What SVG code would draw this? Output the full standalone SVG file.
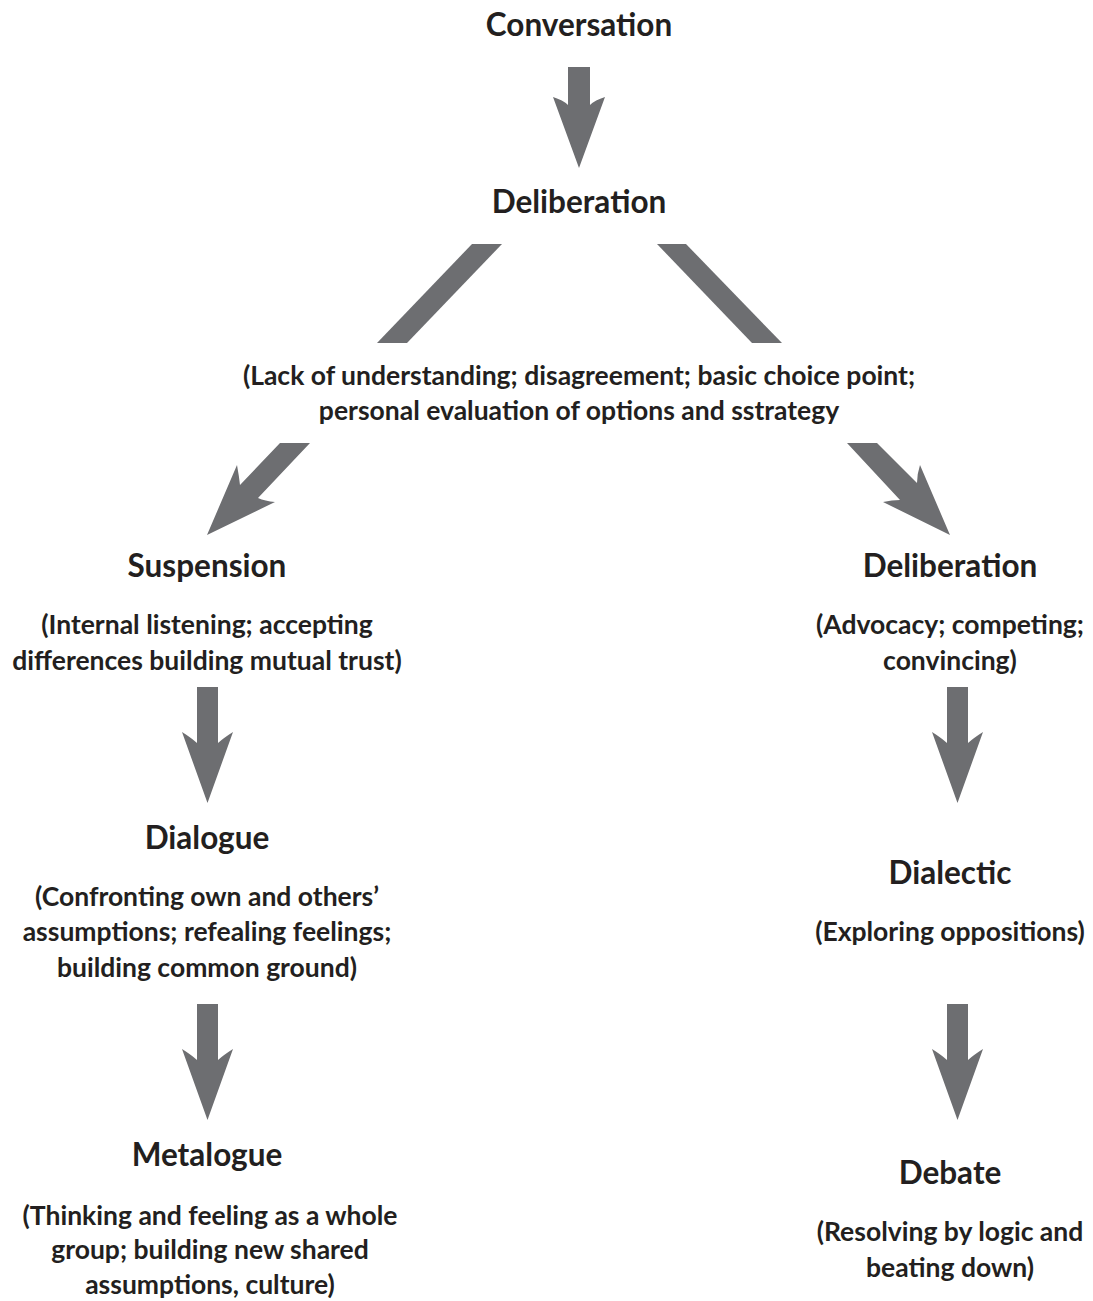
<svg xmlns="http://www.w3.org/2000/svg" width="1093" height="1301" viewBox="0 0 1093 1301">
<style>
.t{font-family:Lato,"Liberation Sans",sans-serif;font-weight:bold;fill:#231f20;text-anchor:middle}
.h{font-size:31.5px}
.s{font-size:26.5px}
.a{fill:#6d6e71}
</style>
<defs>
<path id="down" d="M-10.5,0 H10.5 V56 Q16,51 25.5,45 L0,116 L-25.5,45 Q-16,51 -10.5,56 Z"/>
<path id="downTop" d="M-11,0 H11 V38 Q16,33 26,30 L0,101 L-26,30 Q-16,33 -11,38 Z"/>
</defs>
<rect width="1093" height="1301" fill="#fff"/>
<g id="connectors" class="a">
<use href="#downTop" x="579" y="67"/>
<polygon points="472,244 502,244 407,343 377,343"/>
<polygon points="657,244 686,244 782,343 752,343"/>
<path d="M280,443 H310 L258,498 Q265,501 275,502 L207,535 L237,465 Q239,476 240,485 Z"/>
<path d="M847,443 H877 L917,483 Q917,474 920,465 L950,535 L883,502 Q892,500 900,500 Z"/>
<use href="#down" x="207.5" y="687"/>
<use href="#down" x="957.5" y="687"/>
<use href="#down" x="207.5" y="1004"/>
<use href="#down" x="957.5" y="1004"/>
</g>
<g id="n-conversation"><text class="t h" x="579" y="36">Conversation</text></g>
<g id="n-deliberation-top"><text class="t h" x="579" y="213">Deliberation</text></g>
<g id="n-choice">
<text class="t s" x="579" y="385">(Lack of understanding; disagreement; basic choice point;</text>
<text class="t s" x="579" y="420">personal evaluation of options and sstrategy</text>
</g>
<g id="n-suspension">
<text class="t h" x="207" y="577">Suspension</text>
<text class="t s" x="207" y="634">(Internal listening; accepting</text>
<text class="t s" x="207" y="670">differences building mutual trust)</text>
</g>
<g id="n-deliberation-right">
<text class="t h" x="950" y="577">Deliberation</text>
<text class="t s" x="950" y="634">(Advocacy; competing;</text>
<text class="t s" x="950" y="670">convincing)</text>
</g>
<g id="n-dialogue">
<text class="t h" x="207" y="849">Dialogue</text>
<text class="t s" x="207" y="906">(Confronting own and others’</text>
<text class="t s" x="207" y="941">assumptions; refealing feelings;</text>
<text class="t s" x="207" y="977">building common ground)</text>
</g>
<g id="n-dialectic">
<text class="t h" x="950" y="884">Dialectic</text>
<text class="t s" x="950" y="941">(Exploring oppositions)</text>
</g>
<g id="n-metalogue">
<text class="t h" x="207" y="1166">Metalogue</text>
<text class="t s" x="210" y="1225">(Thinking and feeling as a whole</text>
<text class="t s" x="210" y="1259">group; building new shared</text>
<text class="t s" x="210" y="1294">assumptions, culture)</text>
</g>
<g id="n-debate">
<text class="t h" x="950" y="1184">Debate</text>
<text class="t s" x="950" y="1241">(Resolving by logic and</text>
<text class="t s" x="950" y="1277">beating down)</text>
</g>
</svg>
